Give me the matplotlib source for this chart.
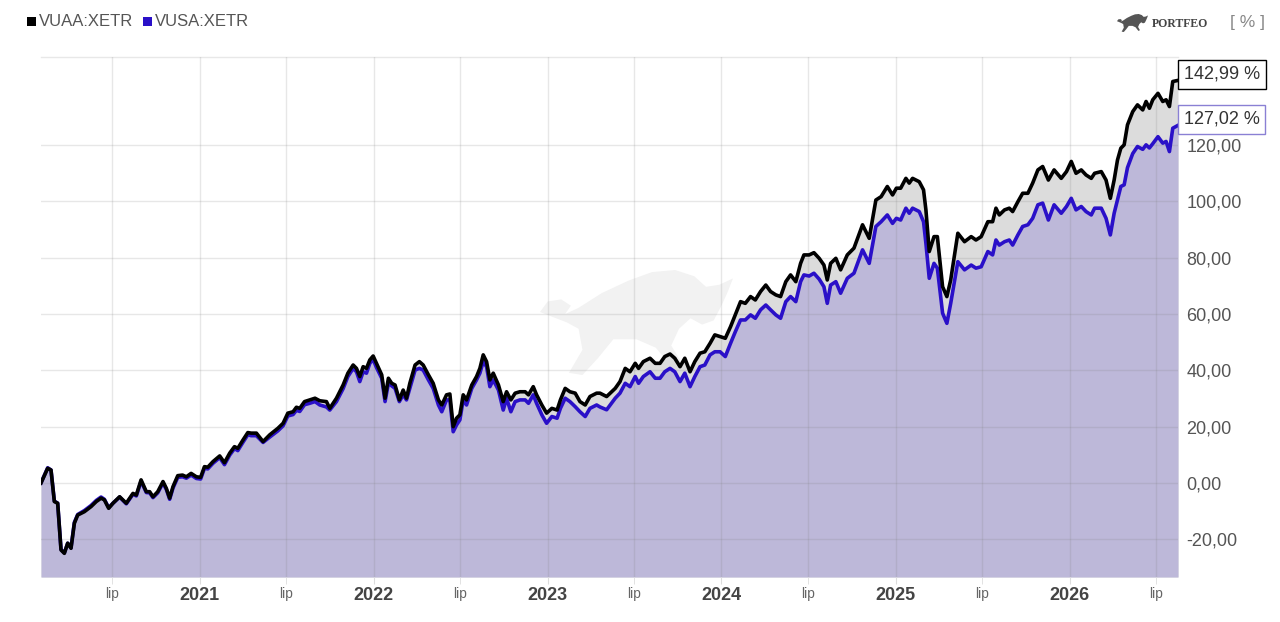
import matplotlib
matplotlib.use('Agg')
import matplotlib.pyplot as plt
import matplotlib.dates as mdates
from matplotlib.patches import Rectangle, Polygon
from matplotlib.ticker import FixedLocator, FuncFormatter
import pandas as pd

# ---------------- data ----------------
series_names = ['VUAA:XETR', 'VUSA:XETR']

dates = [
    '2020-02-03', '2020-02-17', '2020-02-24', '2020-03-02', '2020-03-09', '2020-03-16', '2020-03-23',
    '2020-03-30', '2020-04-06', '2020-04-13', '2020-04-20', '2020-05-04', '2020-05-18', '2020-05-29',
    '2020-06-08', '2020-06-15', '2020-06-24', '2020-07-03', '2020-07-17', '2020-07-31', '2020-08-14',
    '2020-08-21', '2020-08-31', '2020-09-11', '2020-09-18', '2020-09-25', '2020-10-05', '2020-10-16',
    '2020-10-23', '2020-10-30', '2020-11-06', '2020-11-16', '2020-11-26', '2020-12-04', '2020-12-14',
    '2020-12-25', '2021-01-03', '2021-01-11', '2021-01-18', '2021-01-29', '2021-02-12', '2021-02-22',
    '2021-03-05', '2021-03-15', '2021-03-22', '2021-04-02', '2021-04-12', '2021-04-19', '2021-04-30',
    '2021-05-14', '2021-05-28', '2021-06-14', '2021-06-25', '2021-07-05', '2021-07-16', '2021-07-23',
    '2021-07-30', '2021-08-09', '2021-08-20', '2021-08-31',
    '2021-09-10', '2021-09-24', '2021-10-01', '2021-10-15', '2021-10-29', '2021-11-08', '2021-11-19',
    '2021-11-26', '2021-12-03', '2021-12-10', '2021-12-17', '2021-12-24', '2021-12-31', '2022-01-07',
    '2022-01-18', '2022-01-25', '2022-02-01', '2022-02-08', '2022-02-15', '2022-02-24', '2022-03-04',
    '2022-03-11', '2022-03-18', '2022-03-29', '2022-04-07', '2022-04-15', '2022-04-26', '2022-05-06',
    '2022-05-17', '2022-05-24', '2022-06-03', '2022-06-10', '2022-06-17', '2022-06-24', '2022-07-01',
    '2022-07-08', '2022-07-15', '2022-07-26', '2022-08-05', '2022-08-12', '2022-08-19', '2022-08-26',
    '2022-09-02', '2022-09-09', '2022-09-20', '2022-09-30', '2022-10-07', '2022-10-16', '2022-10-25',
    '2022-11-04', '2022-11-15', '2022-11-22', '2022-12-02', '2022-12-09', '2022-12-20', '2022-12-30',
    '2023-01-10', '2023-01-21', '2023-01-28', '2023-02-07', '2023-02-17', '2023-02-28', '2023-03-10',
    '2023-03-21', '2023-03-31', '2023-04-14',
    '2023-04-21', '2023-05-05', '2023-05-23', '2023-06-02', '2023-06-13', '2023-06-23', '2023-07-04',
    '2023-07-11', '2023-07-21', '2023-08-04', '2023-08-15', '2023-08-25', '2023-09-04', '2023-09-15',
    '2023-09-25', '2023-10-06', '2023-10-16', '2023-10-27', '2023-11-06', '2023-11-17', '2023-11-27',
    '2023-12-08', '2023-12-18', '2023-12-29', '2024-01-09', '2024-01-20', '2024-01-30', '2024-02-10',
    '2024-02-20', '2024-03-02', '2024-03-12', '2024-03-23', '2024-04-03', '2024-04-13', '2024-04-24',
    '2024-05-04', '2024-05-15', '2024-05-25', '2024-06-05', '2024-06-15', '2024-06-22', '2024-07-03',
    '2024-07-13', '2024-07-24', '2024-08-03', '2024-08-10', '2024-08-17', '2024-08-28',
    '2024-09-07', '2024-09-21', '2024-10-05', '2024-10-23', '2024-11-06', '2024-11-20', '2024-12-01',
    '2024-12-14', '2024-12-25', '2025-01-02', '2025-01-11', '2025-01-22', '2025-01-29', '2025-02-05',
    '2025-02-19', '2025-02-28', '2025-03-05', '2025-03-12', '2025-03-22', '2025-03-29', '2025-04-09',
    '2025-04-18', '2025-04-26', '2025-05-11', '2025-05-25', '2025-06-08', '2025-06-18', '2025-06-29',
    '2025-07-13', '2025-07-23', '2025-07-30', '2025-08-06', '2025-08-17', '2025-08-27', '2025-09-03',
    '2025-09-14', '2025-09-24', '2025-10-05', '2025-10-15', '2025-10-26', '2025-11-05', '2025-11-17',
    '2025-11-29',
    '2025-12-14', '2025-12-25', '2026-01-04', '2026-01-14', '2026-01-25', '2026-02-04', '2026-02-15',
    '2026-02-22', '2026-03-08', '2026-03-18', '2026-03-27', '2026-04-04', '2026-04-11', '2026-04-18',
    '2026-04-25', '2026-05-02', '2026-05-13', '2026-05-23', '2026-06-03', '2026-06-10', '2026-06-17',
    '2026-06-24', '2026-07-05', '2026-07-15', '2026-07-22', '2026-07-29', '2026-08-05', '2026-08-16',
]

vuaa = [
    0.0, 5.2, 4.6, -6.6, -7.2, -23.8, -25.0,
    -21.4, -23.2, -14.3, -11.4, -10.2, -8.4, -6.6,
    -5.4, -6.0, -9.0, -7.2, -4.9, -7.2, -3.7,
    -4.3, 1.1, -3.1, -3.1, -4.9, -3.1, 0.5,
    -1.9, -5.4, -1.3, 2.6, 2.8, 2.2, 3.4,
    2.2, 2.0, 5.8, 5.6, 7.6, 9.6, 7.2,
    10.6, 12.9, 12.3, 15.3, 17.9, 17.7, 17.7,
    14.7, 17.1, 19.4, 21.2, 24.8, 25.3, 26.9,
    26.5, 28.9, 29.5, 30.1,
    29.2, 28.9, 26.5, 30.1, 34.8, 39.0, 41.9,
    40.7, 37.8, 41.3, 40.7, 43.7, 45.1, 42.5,
    38.4, 30.1, 37.2, 35.4, 34.8, 29.5, 33.0,
    30.1, 35.4, 41.9, 43.1, 41.9, 38.4, 35.4,
    29.5, 27.7, 31.3, 31.6, 20.0, 23.0, 24.2,
    31.3, 29.5, 34.8, 37.8, 40.7, 45.5, 43.1,
    36.6, 39.0, 34.8, 28.9, 32.4, 29.5, 31.9,
    32.4, 32.4, 31.3, 34.2, 31.3, 27.7, 24.8,
    26.5, 25.9, 29.5, 33.6, 32.4, 31.9, 28.9,
    27.7, 30.7, 31.9,
    31.9, 30.7, 33.6, 36.0, 40.7, 39.5, 42.5,
    40.7, 43.1, 44.3, 42.5, 42.5, 44.9, 45.8,
    44.3, 41.3, 44.3, 39.5, 43.1, 46.1, 46.6,
    49.6, 52.6, 52.0, 51.4, 55.5, 59.7, 64.4,
    63.8, 66.2, 65.0, 68.0, 70.3, 68.0, 66.8,
    66.2, 71.5, 73.9, 71.5, 78.0, 81.0, 81.0,
    81.8, 79.8, 77.4, 72.1, 78.0, 79.8,
    75.7, 81.0, 83.4, 91.7, 86.9, 100.5, 101.7,
    105.3, 102.3, 104.7, 104.7, 108.2, 106.5, 108.2,
    107.0, 104.1, 97.0, 82.2, 87.5, 87.5, 69.7,
    66.2, 72.1, 88.7, 85.7, 87.5, 86.3, 87.5,
    92.8, 92.8, 97.6, 95.2, 97.0, 97.6, 96.4,
    99.9, 102.9, 102.9, 106.5, 111.2, 112.4, 107.6,
    111.2,
    108.2, 110.6, 114.2, 110.0, 111.2, 109.4, 108.2,
    110.0, 110.6, 107.6, 101.1, 107.6, 114.7, 118.9,
    120.1, 127.2, 131.9, 134.3, 132.5, 135.5, 133.1,
    136.1, 138.4, 135.5, 136.1, 133.7, 142.6, 142.99,
]

vusa = [
    0.0, 5.4, 4.6, -6.4, -7.2, -23.6, -24.8,
    -21.4, -23.0, -14.0, -11.2, -9.8, -8.0, -6.2,
    -5.0, -5.8, -8.8, -7.2, -5.0, -7.4, -4.0,
    -4.6, 0.6, -3.4, -3.5, -5.2, -3.5, 0.0,
    -2.3, -5.8, -1.8, 2.0, 2.2, 1.7, 2.8,
    1.6, 1.4, 5.2, 5.0, 7.0, 9.0, 6.5,
    9.9, 12.2, 11.5, 14.5, 17.1, 16.8, 16.8,
    14.4, 16.3, 18.5, 20.3, 23.8, 24.3, 25.8,
    25.4, 27.8, 28.3, 28.9,
    27.7, 27.0, 25.9, 28.9, 33.5, 37.8, 40.7,
    39.5, 36.0, 39.5, 39.0, 42.5, 43.9, 41.0,
    37.2, 28.9, 35.4, 34.5, 33.6, 28.9, 31.3,
    29.5, 33.6, 40.1, 40.7, 40.1, 36.6, 33.6,
    27.7, 25.3, 29.5, 29.5, 18.2, 20.6, 22.4,
    29.5, 27.7, 33.6, 36.6, 39.0, 43.1, 41.3,
    34.2, 36.6, 33.0, 25.9, 30.1, 25.3, 28.9,
    29.5, 29.5, 28.3, 31.3, 28.3, 24.2, 21.2,
    23.6, 23.0, 26.5, 30.1, 28.9, 27.1, 25.3,
    23.6, 26.5, 27.7,
    27.0, 26.0, 30.1, 31.9, 35.4, 34.2, 37.8,
    35.4, 37.8, 39.5, 37.2, 37.2, 39.5, 40.7,
    39.5, 36.0, 39.0, 34.2, 37.8, 41.3, 41.9,
    45.5, 46.6, 46.6, 44.9, 49.6, 53.7, 57.9,
    57.9, 59.7, 58.5, 61.5, 63.2, 61.5, 59.7,
    58.5, 64.4, 66.2, 64.4, 71.5, 73.9, 73.5,
    74.5, 72.4, 69.7, 63.8, 70.3, 71.5,
    67.4, 72.7, 74.5, 82.8, 78.0, 91.1, 92.8,
    95.2, 92.2, 94.0, 93.4, 97.6, 95.8, 97.6,
    96.4, 92.8, 85.1, 72.7, 78.0, 76.3, 60.3,
    56.7, 63.8, 78.6, 75.7, 77.4, 76.3, 76.8,
    82.2, 81.0, 86.3, 84.5, 85.7, 86.3, 84.5,
    88.1, 91.1, 91.7, 94.0, 98.8, 99.4, 93.4,
    98.8,
    95.8, 98.2, 101.1, 97.0, 98.2, 96.4, 95.2,
    97.6, 97.6, 94.0, 88.1, 95.8, 100.5, 105.3,
    105.9, 112.0, 117.0, 119.5, 118.5, 120.1, 119.0,
    120.5, 123.0, 120.7, 121.3, 117.7, 126.0, 127.02,
]

year_ticks = ['2021-01-01', '2022-01-01', '2023-01-01', '2024-01-01', '2025-01-01', '2026-01-01']
year_labels = ['2021', '2022', '2023', '2024', '2025', '2026']
mid_ticks = ['2020-07-01', '2021-07-01', '2022-07-01', '2023-07-01', '2024-07-01', '2025-07-01', '2026-07-01']
mid_label = 'lip'
y_ticks = [-20, 0, 20, 40, 60, 80, 100, 120]
unit_label = '[ % ]'
brand = 'PORTFEO'

# ---------------- styling ----------------
W, H = 1280, 622
C_BLACK = '#000000'
C_BLUE = '#2a10c8'
C_GRAYFILL = '#dcdcdc'
C_PURPLEFILL = '#bdb8d9'
FONT = ['Liberation Sans', 'DejaVu Sans']
plt.rcParams['font.family'] = FONT

d = pd.to_datetime(dates)

fig = plt.figure(figsize=(W / 100, H / 100), dpi=100)
fig.patch.set_facecolor('white')

def px(x, y):
    return (x / W, 1 - y / H)

# bull silhouette (unit box, y downwards), facing right
bull_unit = [(0.00, 0.40), (0.04, 0.30), (0.11, 0.28), (0.16, 0.34), (0.13, 0.42), (0.20, 0.36),
             (0.32, 0.22), (0.46, 0.10), (0.58, 0.02), (0.70, 0.00), (0.80, 0.06), (0.86, 0.16),
             (0.93, 0.14), (1.00, 0.08), (0.97, 0.22), (0.94, 0.34), (0.90, 0.48), (0.84, 0.52),
             (0.78, 0.46), (0.72, 0.56), (0.68, 0.72), (0.74, 0.90), (0.69, 0.94), (0.60, 0.74),
             (0.50, 0.66), (0.38, 0.66), (0.30, 0.84), (0.22, 1.00), (0.15, 0.98), (0.22, 0.76),
             (0.20, 0.56), (0.14, 0.50)]

def bull(x0, y0, w, h, color, z):
    pts = [px(x0 + u * w, y0 + v * h) for u, v in bull_unit]
    poly = Polygon(pts, closed=True, transform=fig.transFigure, facecolor=color,
                   edgecolor='none', zorder=z)
    fig.add_artist(poly)

# faint watermark behind the plot
bull(540, 270, 193, 105, '#f2f2f2', -5)

ax = fig.add_axes([41 / W, 1 - 577 / H, (1178 - 41) / W, (577 - 57) / H])
ax.set_facecolor('none')
ax.set_zorder(1)

ymin, ymax = -33.4, 151.3
ax.set_ylim(ymin, ymax)
ax.set_xlim(d[0], d[-1])

ax.fill_between(d, vuaa, ymin, color=C_GRAYFILL, lw=0, zorder=1)
ax.fill_between(d, vusa, ymin, color=C_PURPLEFILL, lw=0, zorder=2)
ax.plot(d, vusa, color=C_BLUE, lw=2.6, zorder=5, solid_joinstyle='round')
ax.plot(d, vuaa, color=C_BLACK, lw=2.6, zorder=6, solid_joinstyle='round')

# axes / ticks
ax.set_xticks(mdates.date2num(pd.to_datetime(year_ticks)))
ax.set_xticklabels(year_labels)
ax.set_xticks(mdates.date2num(pd.to_datetime(mid_ticks)), minor=True)
ax.set_xticklabels([mid_label] * len(mid_ticks), minor=True)
ax.tick_params(axis='x', which='major', length=5, color='#dddddd', pad=2,
               labelsize=13, labelcolor='#444444')
ax.tick_params(axis='x', which='minor', length=5, color='#dddddd', pad=2,
               labelsize=10, labelcolor='#666666')
for t in ax.get_xticklabels():
    t.set_fontweight('bold')

ax.yaxis.tick_right()
ax.set_yticks(y_ticks)
ax.yaxis.set_major_formatter(FuncFormatter(lambda v, p: f'{v:.2f}'.replace('.', ',')))
ax.tick_params(axis='y', length=0, pad=6, labelsize=13, labelcolor='#555555')

ax.grid(True, which='both', axis='x', color='#7f7f7f', alpha=0.18, lw=1, zorder=3)
ax.grid(True, which='major', axis='y', color='#7f7f7f', alpha=0.18, lw=1, zorder=3)
ax.set_axisbelow(False)
for s in ['left', 'right', 'bottom']:
    ax.spines[s].set_visible(False)
ax.spines['top'].set_color('#e8e8e8')
ax.spines['top'].set_linewidth(1)

# end-value labels
def end_label(val, ec):
    ax.annotate(f'{val:.2f}'.replace('.', ',') + ' %', xy=(1.0, val),
                xycoords=ax.get_yaxis_transform(), xytext=(4, 4.5), textcoords='offset points',
                ha='left', va='center', fontsize=13, color='#333333', zorder=10,
                annotation_clip=False,
                bbox=dict(boxstyle='square,pad=0.33', fc='white', ec=ec, lw=1))

end_label(vuaa[-1], C_BLACK)
end_label(vusa[-1], '#8a80d4')

# legend at top-left
lx = 27
for name, col in zip(series_names, [C_BLACK, C_BLUE]):
    fig.add_artist(Rectangle(px(lx, 26), 9 / W, 9 / H, transform=fig.transFigure,
                             facecolor=col, edgecolor='none'))
    t = fig.text(*px(lx + 12, 21), name, fontsize=12, color='#555555', va='center', ha='left')
    fig.canvas.draw()
    bb = t.get_window_extent()
    lx = bb.x1 + 10

# logo and unit at top-right
bull(1117, 14, 31, 18, '#555555', 5)
fig.text(*px(1152, 24), brand, fontsize=8.5, fontweight='bold', family=['Liberation Serif', 'DejaVu Serif'],
         color='#444444', va='center', ha='left')
fig.text(*px(1230, 22), unit_label, fontsize=12.5, color='#888888', va='center', ha='left')

fig.savefig('out.png', dpi=100, facecolor='white')
